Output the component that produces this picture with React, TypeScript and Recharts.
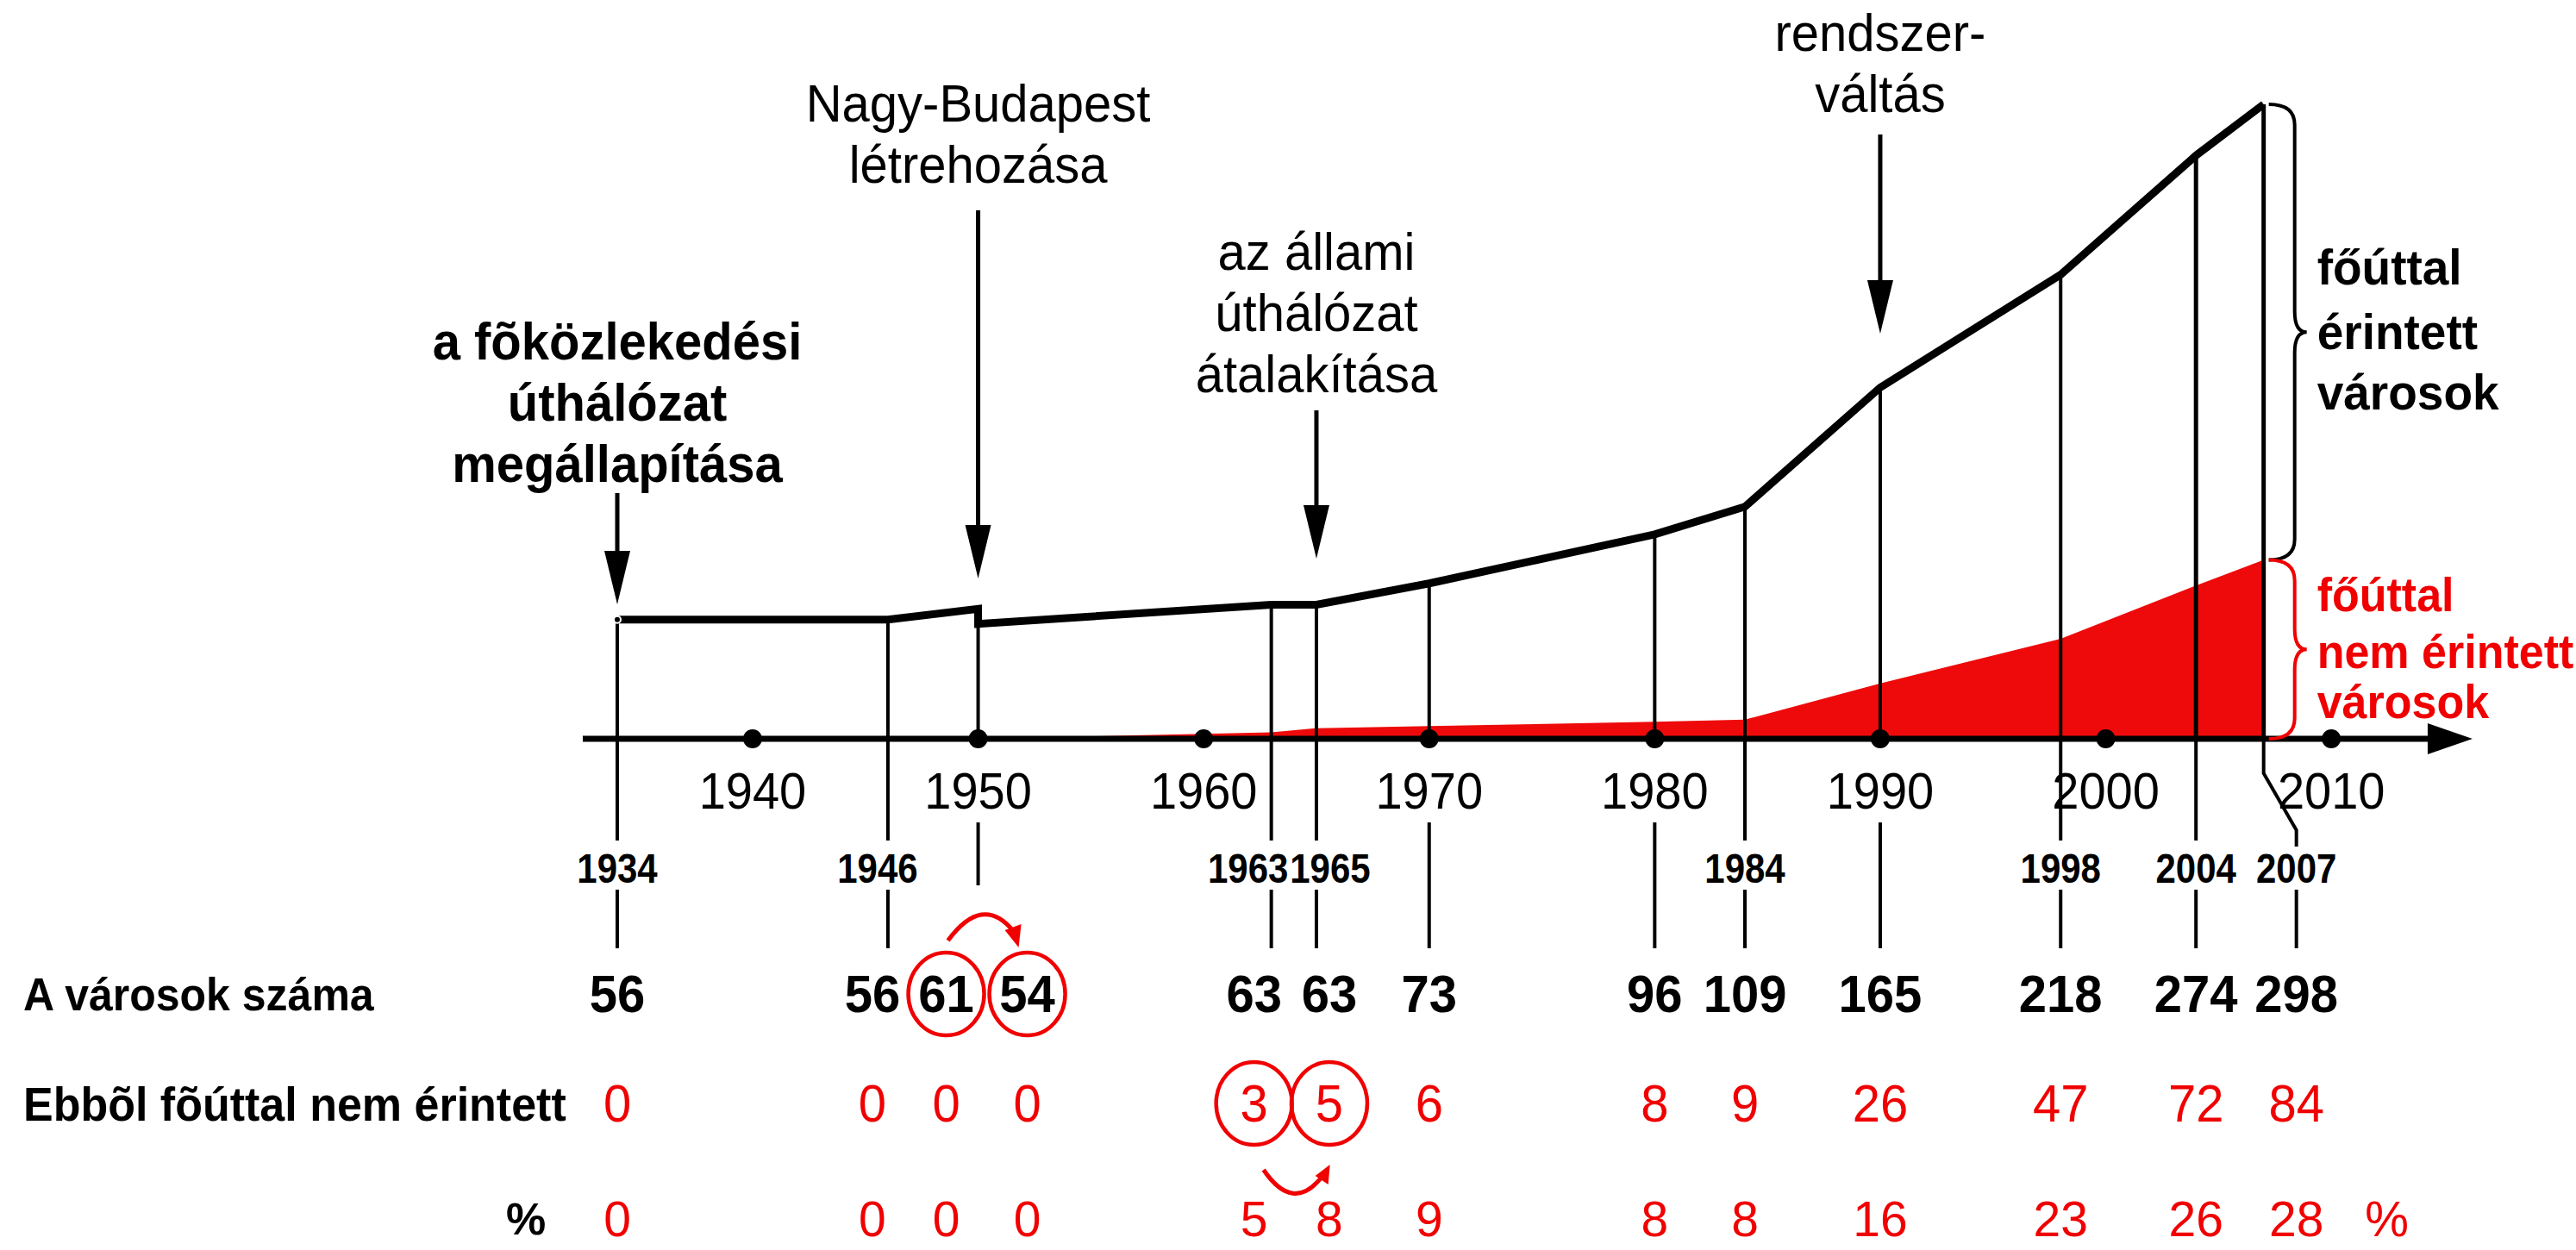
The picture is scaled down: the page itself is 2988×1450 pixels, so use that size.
import {
  Area,
  ComposedChart,
  Line,
  ReferenceDot,
  ReferenceLine,
  Scatter,
  XAxis,
  YAxis,
} from 'recharts';

// Years with a recorded city count. 1950 appears twice: before and after
// Nagy-Budapest was created (61 -> 54).
const years = [1934, 1946, 1950, 1950, 1963, 1965, 1970, 1980, 1984, 1990, 1998, 2004, 2007];
const cityCount = [56, 56, 61, 54, 63, 63, 73, 96, 109, 165, 218, 274, 298];
const notOnMainRoad = [0, 0, 0, 0, 3, 5, 6, 8, 9, 26, 47, 72, 84];
const notOnMainRoadPct = [0, 0, 0, 0, 5, 8, 9, 8, 8, 16, 23, 26, 28];
const decades = [1940, 1950, 1960, 1970, 1980, 1990, 2000, 2010];

const events = [
  { year: 1934, lines: ['a fõközlekedési', 'úthálózat', 'megállapítása'] },
  { year: 1950, lines: ['Nagy-Budapest', 'létrehozása'] },
  { year: 1965, lines: ['az állami', 'úthálózat', 'átalakítása'] },
  { year: 1990, lines: ['rendszer-', 'váltás'] },
];

const rowLabels = ['A városok száma', 'Ebbõl fõúttal nem érintett', '%'];
const braceLabels = {
  touched: ['főúttal', 'érintett', 'városok'],
  untouched: ['főúttal', 'nem érintett', 'városok'],
};

// ---- layout / style (pixels) ----
const W = 2988;
const H = 1450;
const X_MIN = 1906.63;
const X_MAX = 2020.85;
const Y_MIN = -240.1;
const Y_MAX = 347;
const AXIS_START = 1932.47;
const AXIS_END = 2016.26;
const FONT = "'Liberation Sans', Arial, Helvetica, sans-serif";
const RED = '#f00000';
const FILL_RED = '#ee0a0a';

// nudges for the table columns so that crowded numbers don't collide
const COL_NUDGE = [0, -18, -37, 57, -20, 15, 0, 0, 0, 0, 0, 0, 38];
const YEAR_NUDGE: Record<number, number> = { 1946: -12, 1963: -27, 1965: 16, 2007: 38 };
const ROW_Y = [296, 423, 557]; // below the axis
const EVENT_LAYOUT = [
  { top: 396, from: 572, to: 701, bold: true },
  { top: 120, from: 244, to: 671, bold: false },
  { top: 292, from: 476, to: 648, bold: false },
  { top: 38, from: 156, to: 387, bold: false },
];

function Txt({ x, y, size, bold = false, fill = '#000', anchor = 'middle', sy = 1.06, children }: any) {
  return (
    <text
      transform={`translate(${x},${y}) scale(1,${sy})`}
      fontSize={size}
      fontWeight={bold ? 700 : 400}
      fontFamily={FONT}
      fill={fill}
      textAnchor={anchor}
      dominantBaseline="central"
    >
      {children}
    </text>
  );
}

function DecadeMark(props: any) {
  const { cx, cy, payload } = props;
  return (
    <g>
      <circle cx={cx} cy={cy} r={11} fill="#000" />
      <Txt x={cx} y={cy + 60} size={56}>{payload.year}</Txt>
    </g>
  );
}

function AxisArrow(props: any) {
  const { cx, cy } = props;
  return <polygon points={`${cx},${cy} ${cx - 52},${cy - 18} ${cx - 52},${cy + 18}`} fill="#000" />;
}

function Column(props: any) {
  const { cx, cy, payload } = props;
  const i = payload.i;
  const yr = years[i];
  const n = COL_NUDGE[i];
  const isDecade = yr % 10 === 0;
  const ln = { stroke: '#000', strokeWidth: 4, fill: 'none' };
  const lowX = yr === 2007 ? cx + 38 : cx;
  const vx = cx + n;

  return (
    <g>
      {isDecade && i !== 3 && (
        <line x1={cx} x2={cx} y1={cy + 97} y2={cy + (yr === 1950 ? 170 : 243)} {...ln} />
      )}
      {!isDecade && (
        <>
          {yr === 2007 ? (
            <path d={`M${cx},${cy} L${cx},${cy + 40} L${lowX},${cy + 106} L${lowX},${cy + 125}`} {...ln} />
          ) : (
            <line x1={cx} x2={cx} y1={cy} y2={cy + 118} {...ln} />
          )}
          <Txt x={cx + (YEAR_NUDGE[yr] ?? 0)} y={cy + 150} size={42} bold sy={1.15}>
            {yr}
          </Txt>
          <line x1={lowX} x2={lowX} y1={cy + 175} y2={cy + 243} {...ln} />
        </>
      )}

      <Txt x={vx} y={cy + ROW_Y[0]} size={58} bold>{cityCount[i]}</Txt>
      <Txt x={vx} y={cy + ROW_Y[1]} size={58} fill={RED}>{notOnMainRoad[i]}</Txt>
      <Txt x={vx} y={cy + ROW_Y[2]} size={57} fill={RED} sy={1}>{notOnMainRoadPct[i]}</Txt>

      {(i === 2 || i === 3) && (
        <ellipse cx={vx} cy={cy + ROW_Y[0]} rx={44} ry={48} fill="none" stroke={RED} strokeWidth={4.5} />
      )}
      {(i === 4 || i === 5) && (
        <ellipse cx={vx} cy={cy + ROW_Y[1]} rx={44} ry={48} fill="none" stroke={RED} strokeWidth={4.5} />
      )}
      {i === 2 && (
        <g>
          <path d={`M${cx - 35},${cy + 234} Q${cx + 5},${cy + 180} ${cx + 40},${cy + 222}`} stroke={RED} strokeWidth={5} fill="none" />
          <polygon points={`${cx + 47},${cy + 242} ${cx + 31},${cy + 222} ${cx + 50},${cy + 215}`} fill={RED} />
        </g>
      )}
      {i === 4 && (
        <g>
          <path d={`M${cx - 9},${cy + 500} Q${cx + 25},${cy + 550} ${cx + 58},${cy + 509}`} stroke={RED} strokeWidth={5} fill="none" />
          <polygon points={`${cx + 68},${cy + 494} ${cx + 51},${cy + 507} ${cx + 66},${cy + 517}`} fill={RED} />
        </g>
      )}

      {i === 0 && (
        <>
          <Txt x={27} y={cy + ROW_Y[0]} size={50} bold anchor="start">{rowLabels[0]}</Txt>
          <Txt x={27} y={cy + ROW_Y[1]} size={52} bold anchor="start">{rowLabels[1]}</Txt>
          <Txt x={610} y={cy + ROW_Y[2]} size={52} bold sy={1}>{rowLabels[2]}</Txt>
        </>
      )}
      {i === years.length - 1 && (
        <Txt x={vx + 105} y={cy + ROW_Y[2]} size={57} fill={RED} sy={1}>{rowLabels[2]}</Txt>
      )}
    </g>
  );
}

function EventMark(props: any) {
  const { cx, payload } = props;
  const ev = events[payload.i];
  const lay = EVENT_LAYOUT[payload.i];
  return (
    <g>
      {ev.lines.map((t, k) => (
        <Txt key={k} x={cx} y={lay.top + k * 71} size={58} bold={lay.bold}>{t}</Txt>
      ))}
      <line x1={cx} x2={cx} y1={lay.from} y2={lay.to - 40} stroke="#000" strokeWidth={5} />
      <polygon points={`${cx},${lay.to} ${cx - 15},${lay.to - 62} ${cx + 15},${lay.to - 62}`} fill="#000" />
    </g>
  );
}

function bracePath(x: number, top: number, bottom: number) {
  const w = 30;
  const r = 24;
  const tip = 14;
  const mid = (top + bottom) / 2;
  return (
    `M${x},${top} Q${x + w},${top} ${x + w},${top + r} L${x + w},${mid - r} ` +
    `Q${x + w},${mid} ${x + w + tip},${mid} Q${x + w},${mid} ${x + w},${mid + r} ` +
    `L${x + w},${bottom - r} Q${x + w},${bottom} ${x},${bottom}`
  );
}

function Brace(props: any) {
  const { x1, y1, y2, color, lines, size, offsets } = props;
  const top = Math.min(y1, y2);
  const bottom = Math.max(y1, y2);
  const mid = (top + bottom) / 2;
  return (
    <g>
      <path d={bracePath(x1 + 6, top, bottom)} stroke={color} strokeWidth={4} fill="none" />
      {lines.map((t: string, k: number) => (
        <Txt key={k} x={x1 + 62} y={mid + offsets[k]} size={size} bold fill={color} anchor="start">
          {t}
        </Txt>
      ))}
    </g>
  );
}

export default function App() {
  const lineData = years.map((year, i) => ({ year, v: cityCount[i] }));
  const areaData = years.map((year, i) => ({ year, v: notOnMainRoad[i] })).slice(3);
  const columnData = years.map((year, i) => ({ year, v: 0, i }));
  const decadeData = decades.map((year) => ({ year, v: 0 }));
  const eventData = events.map((e, i) => ({ year: e.year, v: 0, i }));
  const last = years.length - 1;

  return (
    <div style={{ position: 'absolute', left: 0, top: 0, width: W, height: H, background: '#fff' }}>
      <ComposedChart width={W} height={H} margin={{ top: 0, right: 0, bottom: 0, left: 0 }}>
        <XAxis type="number" dataKey="year" domain={[X_MIN, X_MAX]} allowDataOverflow hide />
        <YAxis type="number" dataKey="v" domain={[Y_MIN, Y_MAX]} allowDataOverflow hide />
        <Area
          data={areaData}
          dataKey="v"
          type="linear"
          stroke="none"
          fill={FILL_RED}
          fillOpacity={1}
          baseValue={0}
          isAnimationActive={false}
        />
        {years.map((year, i) =>
          i === 3 ? null : (
            <ReferenceLine
              key={i}
              segment={[{ x: year, y: cityCount[i] }, { x: year, y: 0 }]}
              stroke="#000"
              strokeWidth={year >= 2004 ? 5 : 4}
              ifOverflow="visible"
            />
          )
        )}
        <ReferenceLine
          segment={[{ x: AXIS_START, y: 0 }, { x: AXIS_END - 1.5, y: 0 }]}
          stroke="#000"
          strokeWidth={7}
          ifOverflow="visible"
        />
        <ReferenceDot x={AXIS_END} y={0} r={1} shape={AxisArrow} ifOverflow="visible" />
        <Line
          data={lineData}
          dataKey="v"
          type="linear"
          stroke="#000"
          strokeWidth={9}
          dot={false}
          isAnimationActive={false}
        />
        <ReferenceLine
          segment={[{ x: years[last], y: cityCount[last] }, { x: years[last], y: notOnMainRoad[last] }]}
          ifOverflow="visible"
          shape={(p: any) => (
            <Brace {...p} color="#000" lines={braceLabels.touched} size={55} offsets={[-75, 0, 70]} />
          )}
        />
        <ReferenceLine
          segment={[{ x: years[last], y: notOnMainRoad[last] }, { x: years[last], y: 0 }]}
          ifOverflow="visible"
          shape={(p: any) => (
            <Brace {...p} color={RED} lines={braceLabels.untouched} size={52} offsets={[-64, 2, 60]} />
          )}
        />
        <Scatter data={decadeData} shape={DecadeMark} isAnimationActive={false} />
        <Scatter data={columnData} shape={Column} isAnimationActive={false} />
        <Scatter data={eventData} shape={EventMark} isAnimationActive={false} />
      </ComposedChart>
    </div>
  );
}
